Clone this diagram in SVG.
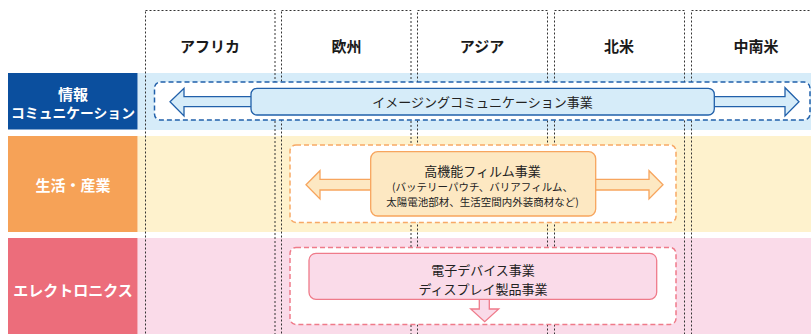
<svg xmlns="http://www.w3.org/2000/svg" width="811" height="334" viewBox="0 0 811 334">
<style>
text{font-family:"Noto Sans CJK JP","Noto Sans",sans-serif;text-anchor:middle;dominant-baseline:central}
.hdr{font-size:15px;font-weight:bold;fill:#1a1a1a}
.lbl{font-size:15px;font-weight:bold;fill:#fff}
.t13{font-size:13px;fill:#222}
.t10{font-size:10.5px;fill:#222}
.col{fill:none;stroke:#333;stroke-width:1;stroke-dasharray:2 2}
.box{fill:#fff;stroke-width:1.5;stroke-dasharray:5 3}
</style>
<rect width="811" height="334" fill="#fff"/>
<g id="bands">
<rect x="137.5" y="73" width="673.5" height="57" fill="#d6ecf9"/>
<rect x="137.5" y="136" width="673.5" height="96" fill="#fef2cd"/>
<rect x="137.5" y="238" width="673.5" height="96" fill="#fadbe9"/>
</g>
<g id="columns">
<rect class="col" x="145.5" y="10.5" width="129.5" height="340"/>
<rect class="col" x="281.5" y="10.5" width="129.5" height="340"/>
<rect class="col" x="417.5" y="10.5" width="130" height="340"/>
<rect class="col" x="554.5" y="10.5" width="130" height="340"/>
<rect class="col" x="691.5" y="10.5" width="130" height="340"/>
<text class="hdr" x="210" y="45">アフリカ</text>
<text class="hdr" x="346.5" y="45">欧州</text>
<text class="hdr" x="482" y="45">アジア</text>
<text class="hdr" x="619" y="45">北米</text>
<text class="hdr" x="756" y="45">中南米</text>
</g>
<g id="row-info">
<rect x="8" y="73" width="129.5" height="56.5" fill="#0b4f9e"/>
<text class="lbl" x="73" y="93">情報</text>
<text class="lbl" x="73" y="112" style="font-size:13.8px">コミュニケーション</text>
</g>
<g id="row-life">
<rect x="8" y="136" width="129.5" height="96" fill="#f6a257"/>
<text class="lbl" x="73" y="184.5">生活・産業</text>
</g>
<g id="row-elec">
<rect x="8" y="238" width="129.5" height="96" fill="#ec6d7b"/>
<text class="lbl" x="73" y="289">エレクトロニクス</text>
</g>
<g id="areas">
<rect class="box" x="154.5" y="82" width="655.5" height="38" rx="6" stroke="#2160aa"/>
<rect class="box" x="290" y="145" width="386" height="77.5" rx="6" stroke="#f7a966"/>
<rect class="box" x="290" y="247.5" width="386" height="77" rx="6" stroke="#ef7b8a"/>
</g>
<g id="connectors" stroke-width="1.3" stroke-linejoin="miter">
<polygon points="252,96.7 184,96.7 184,88.3 170,101.8 184,116 184,106.7 252,106.7" fill="#d6ecf9" stroke="#2160aa"/>
<polygon points="713,96.7 785,96.7 785,87.7 799,101.8 785,116 785,106.7 713,106.7" fill="#d6ecf9" stroke="#2160aa"/>
<polygon points="372,179.3 320,179.3 320,170.7 306,184.8 320,199 320,190 372,190" fill="#fde8c2" stroke="#f7a55e"/>
<polygon points="594,179.3 649,179.3 649,170.7 663,184.8 649,199 649,190 594,190" fill="#fde8c2" stroke="#f7a55e"/>
<polygon points="479.3,298 479.3,309 470.7,309 484.7,321.7 498.7,309 489.3,309 489.3,298" fill="#fadbe9" stroke="#ef7b8a"/>
</g>
<g id="imaging">
<rect x="251" y="88.3" width="463.3" height="26.7" rx="6" fill="#d6ecf9" stroke="#2160aa" stroke-width="1.3"/>
<text class="t13" x="482.5" y="101.7">イメージングコミュニケーション事業</text>
</g>
<g id="film">
<rect x="370.7" y="151.7" width="225" height="64.3" rx="7" fill="#fde8c2" stroke="#f7a55e" stroke-width="1.3"/>
<text class="t13" x="482.5" y="170.5">高機能フィルム事業</text>
<text class="t10" x="482.5" y="186.5">(バッテリーパウチ、バリアフィルム、</text>
<text class="t10" x="482.5" y="201">太陽電池部材、生活空間内外装商材など)</text>
</g>
<g id="devices">
<rect x="309" y="253.3" width="347.7" height="46" rx="7" fill="#fadbe9" stroke="#ef7b8a" stroke-width="1.3"/>
<text class="t13" x="483" y="269">電子デバイス事業</text>
<text class="t13" x="483" y="288">ディスプレイ製品事業</text>
</g>
</svg>
